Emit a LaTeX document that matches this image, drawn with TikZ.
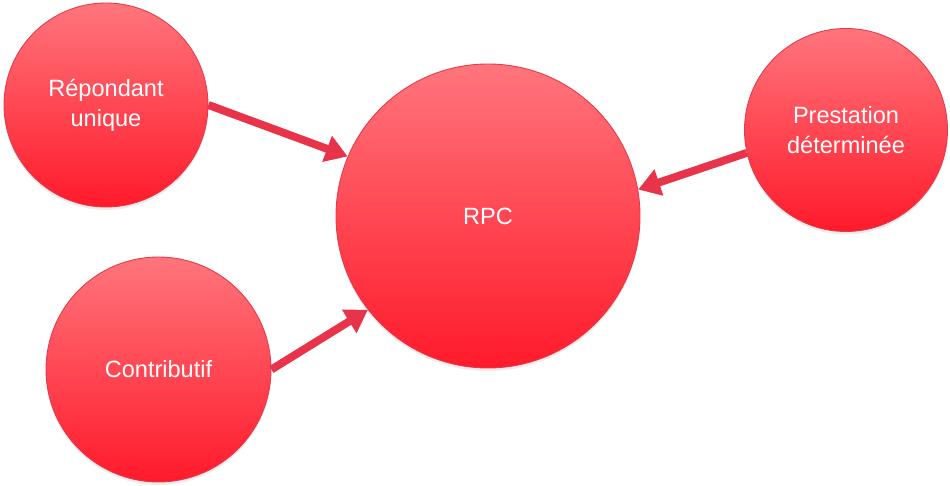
\documentclass[tikz,border=0pt]{standalone}
\usepackage{fontspec}
\setmainfont{Liberation Sans}
\usetikzlibrary{arrows.meta,shadows}
\definecolor{bulletop}{HTML}{FF757C}
\definecolor{bullebas}{HTML}{FF1A2B}
\definecolor{bullebord}{HTML}{E33A4B}
\definecolor{fleche}{HTML}{E8344A}

\begin{document}
\begin{tikzpicture}[
    bulle/.style={circle, draw=bullebord, line width=0.5pt, top color=bulletop,
        bottom color=bullebas, text=white, align=center, inner sep=0pt,
        font=\fontsize{13.4}{17}\selectfont,
        drop shadow={shadow xshift=0pt, shadow yshift=-0.06cm, opacity=0.15}},
    lien/.style={draw=fleche, line width=4.5pt,
        -{Triangle[length=12.5pt, width=15pt]}}
]
    \useasboundingbox (0,0) rectangle (19,9.7);

    \node[bulle, minimum size=4.08cm] at (2.12,7.60) (RU)  {Répondant\\unique};
    \node[bulle, minimum size=6.08cm] at (9.76,5.38) (RPC) {RPC};
    \node[bulle, minimum size=4.06cm] at (16.92,7.10) (PD) {Prestation\\déterminée};
    \node[bulle, minimum size=4.50cm] at (3.17,2.31) (C)   {Contributif};

    \draw[lien] (RU.east) -- (RPC.157);
    \draw[lien] (C.east) -- (RPC.218);
    \draw[lien] (PD.193) -- (RPC.10);
\end{tikzpicture}
\end{document}
